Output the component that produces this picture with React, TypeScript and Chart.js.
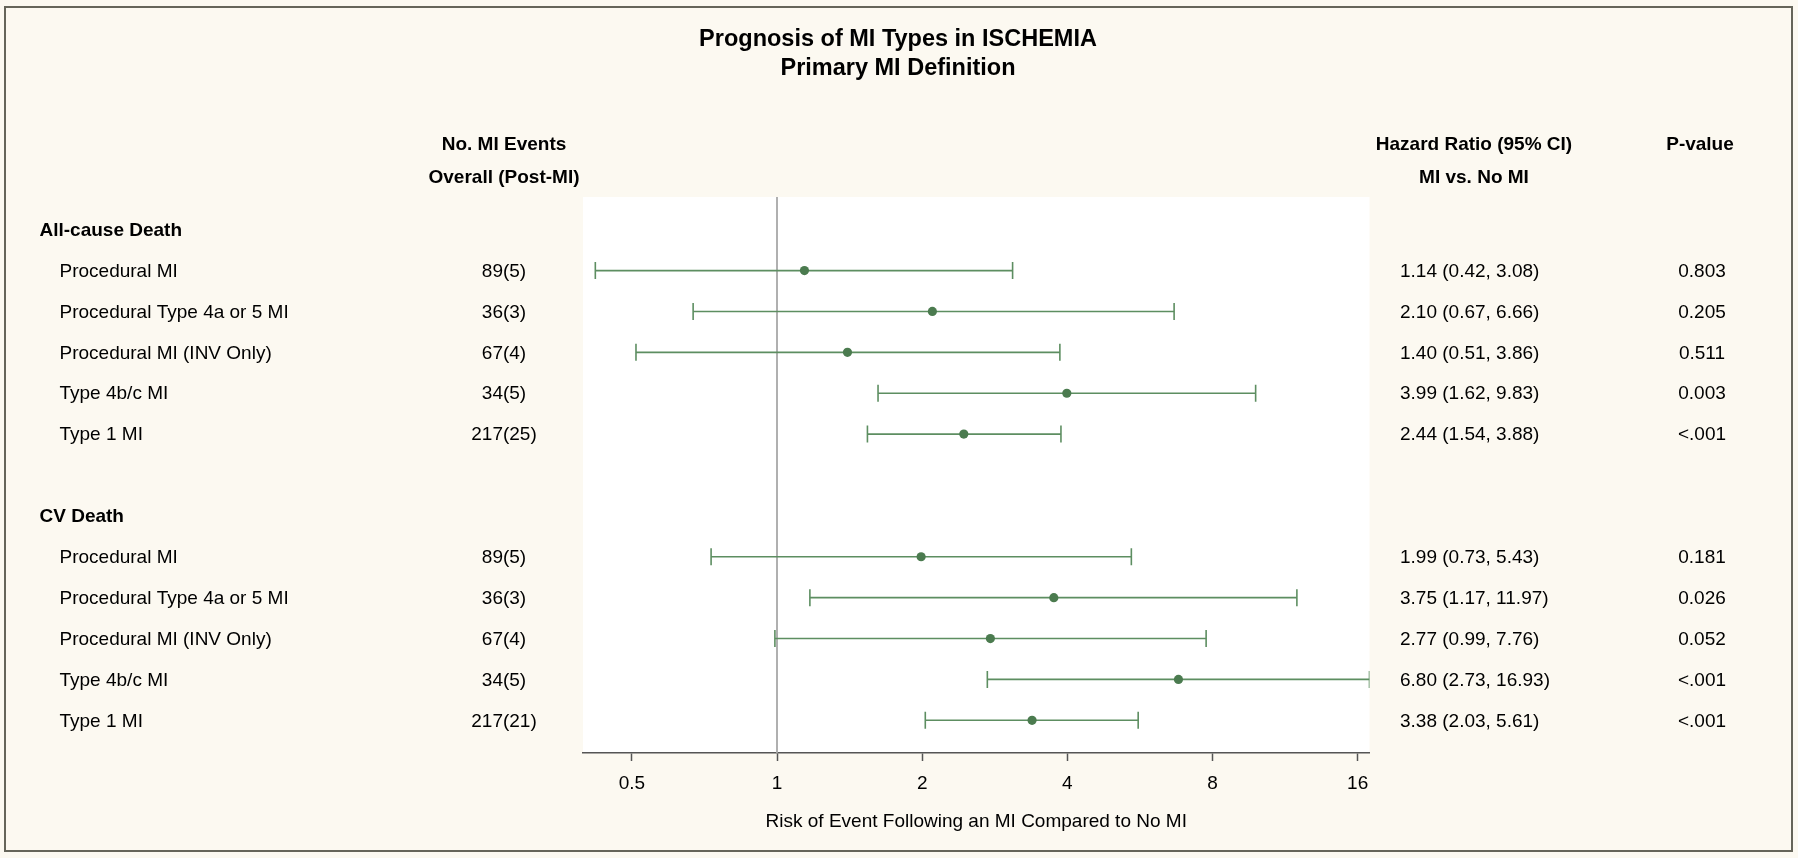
import React, { useEffect, useRef } from 'react';
import { Chart, registerables } from 'chart.js';

Chart.register(...registerables);

// ---------- data ----------
const titleLines = ['Prognosis of MI Types in ISCHEMIA', 'Primary MI Definition'];
const groupNames = ['All-cause Death', 'CV Death'];
const rowLabels = [
  'Procedural MI',
  'Procedural Type 4a or 5 MI',
  'Procedural MI (INV Only)',
  'Type 4b/c MI',
  'Type 1 MI',
];
const eventsAll = ['89(5)', '36(3)', '67(4)', '34(5)', '217(25)'];
const hrAll = [1.14, 2.1, 1.4, 3.99, 2.44];
const lowerAll = [0.42, 0.67, 0.51, 1.62, 1.54];
const upperAll = [3.08, 6.66, 3.86, 9.83, 3.88];
const pAll = ['0.803', '0.205', '0.511', '0.003', '<.001'];

const eventsCV = ['89(5)', '36(3)', '67(4)', '34(5)', '217(21)'];
const hrCV = [1.99, 3.75, 2.77, 6.8, 3.38];
const lowerCV = [0.73, 1.17, 0.99, 2.73, 2.03];
const upperCV = [5.43, 11.97, 7.76, 16.93, 5.61];
const pCV = ['0.181', '0.026', '0.052', '<.001', '<.001'];

const xTicks = [0.5, 1, 2, 4, 8, 16];
const xTitle = 'Risk of Event Following an MI Compared to No MI';
const eventsHeader = ['No. MI Events', 'Overall (Post-MI)'];
const hrHeader = ['Hazard Ratio (95% CI)', 'MI vs. No MI'];
const pHeader = ['P-value'];

// ---------- structure ----------
const groups = [
  { name: groupNames[0], events: eventsAll, hr: hrAll, lo: lowerAll, hi: upperAll, p: pAll },
  { name: groupNames[1], events: eventsCV, hr: hrCV, lo: lowerCV, hi: upperCV, p: pCV },
];

type Row = { slot: number; label: string; events: string; hr: number; lo: number; hi: number; p: string };
const headerSlots: { slot: number; name: string }[] = [];
const rows: Row[] = [];
{
  let slot = 0;
  groups.forEach((g, gi) => {
    if (gi > 0) slot++; // blank spacer row
    headerSlots.push({ slot, name: g.name });
    slot++;
    rowLabels.forEach((label, i) => {
      rows.push({ slot, label, events: g.events[i], hr: g.hr[i], lo: g.lo[i], hi: g.hi[i], p: g.p[i] });
      slot++;
    });
  });
}
const lastSlot = rows[rows.length - 1].slot;

const FONT = "'Liberation Sans', Arial, Helvetica, sans-serif";
const GREEN_DOT = '#4b7b4f';
const GREEN_LINE = '#5d8e61';
const BG = '#fcf9f1';

export default function App() {
  const ref = useRef<HTMLCanvasElement | null>(null);

  useEffect(() => {
    document.body.style.margin = '0';
    const canvas = ref.current;
    if (!canvas) return;

    const ciSets = rows.map((r) => ({
      type: 'line' as const,
      data: [
        { x: r.lo, y: r.slot },
        { x: r.hi, y: r.slot },
      ],
      borderColor: GREEN_LINE,
      borderWidth: 1.6,
      pointStyle: 'line' as const,
      rotation: 90,
      pointRadius: 8.5,
      pointBorderWidth: 1.6,
      pointBorderColor: GREEN_LINE,
      pointBackgroundColor: GREEN_LINE,
      order: 2,
    }));

    const textPlugin = {
      id: 'forestText',
      beforeDraw(chart: any) {
        const { ctx, chartArea } = chart;
        ctx.save();
        ctx.fillStyle = BG;
        ctx.fillRect(0, 0, chart.width, chart.height);
        ctx.fillStyle = '#ffffff';
        ctx.fillRect(chartArea.left, chartArea.top, chartArea.right - chartArea.left, chartArea.bottom - chartArea.top);
        ctx.restore();
      },
      afterDraw(chart: any) {
        const { ctx } = chart;
        const y = chart.scales.y;
        ctx.save();
        ctx.fillStyle = '#000';
        ctx.textBaseline = 'middle';

        // title
        ctx.font = `bold 23.5px ${FONT}`;
        ctx.textAlign = 'center';
        titleLines.forEach((t, i) => ctx.fillText(t, 898, 40 + i * 29));

        // column headers
        ctx.font = `bold 19px ${FONT}`;
        eventsHeader.forEach((t, i) => ctx.fillText(t, 504, 145 + i * 33));
        hrHeader.forEach((t, i) => ctx.fillText(t, 1474, 145 + i * 33));
        pHeader.forEach((t, i) => ctx.fillText(t, 1700, 145 + i * 33));

        // group headers
        ctx.textAlign = 'left';
        headerSlots.forEach((h) => ctx.fillText(h.name, 39.5, y.getPixelForValue(h.slot) + 1));

        // rows
        ctx.font = `19px ${FONT}`;
        rows.forEach((r) => {
          const py = y.getPixelForValue(r.slot) + 1;
          ctx.textAlign = 'left';
          ctx.fillText(r.label, 59.5, py);
          ctx.textAlign = 'center';
          ctx.fillText(r.events, 504, py);
          ctx.textAlign = 'left';
          ctx.fillText(`${r.hr.toFixed(2)} (${r.lo.toFixed(2)}, ${r.hi.toFixed(2)})`, 1400, py);
          ctx.textAlign = 'center';
          ctx.fillText(r.p, 1702, py);
        });

        // outer frame
        ctx.strokeStyle = '#66655a';
        ctx.lineWidth = 2;
        ctx.strokeRect(5, 7, 1787, 844);
        ctx.restore();
      },
    };

    const chart = new Chart(canvas, {
      type: 'scatter',
      data: {
        datasets: [
          {
            type: 'scatter',
            data: rows.map((r) => ({ x: r.hr, y: r.slot })),
            pointStyle: 'circle',
            pointRadius: 4.6,
            pointBorderWidth: 0,
            backgroundColor: GREEN_DOT,
            borderColor: GREEN_DOT,
            order: 1,
          },
          ...ciSets,
          {
            type: 'line',
            data: [
              { x: 1, y: -0.8 },
              { x: 1, y: lastSlot + 0.8 },
            ],
            borderColor: '#a8a8a8',
            borderWidth: 1.8,
            pointRadius: 0,
            order: 3,
          },
        ] as any,
      },
      options: {
        responsive: false,
        animation: false,
        events: [],
        layout: { padding: { left: 583, right: 428.5, top: 197, bottom: 0 } },
        plugins: { legend: { display: false }, tooltip: { enabled: false }, title: { display: false } },
        scales: {
          x: {
            type: 'logarithmic',
            position: 'bottom',
            min: 0.396,
            max: 16.93,
            afterBuildTicks: (scale: any) => {
              scale.ticks = xTicks.map((v) => ({ value: v }));
            },
            afterFit: (scale: any) => {
              scale.height = 105;
            },
            border: { display: true, color: '#555555', width: 1.5 },
            grid: {
              display: true,
              drawOnChartArea: false,
              drawTicks: true,
              tickLength: 8,
              tickColor: '#555555',
              tickWidth: 1.5,
            },
            ticks: {
              autoSkip: false,
              maxRotation: 0,
              padding: 11,
              color: '#000',
              font: { family: FONT, size: 19 },
              callback: (v: any) => String(v),
            },
            title: {
              display: true,
              text: xTitle,
              color: '#000',
              font: { family: FONT, size: 19 },
              padding: { top: 0, bottom: 25 },
            },
          },
          y: {
            type: 'linear',
            display: false,
            reverse: true,
            min: -0.8,
            max: lastSlot + 0.8,
          },
        },
      } as any,
      plugins: [textPlugin],
    });

    return () => chart.destroy();
  }, []);

  return (
    <div style={{ position: 'absolute', left: 0, top: 0, width: 1798, height: 858 }}>
      <canvas ref={ref} width={1798} height={858} style={{ display: 'block', width: 1798, height: 858 }} />
    </div>
  );
}
